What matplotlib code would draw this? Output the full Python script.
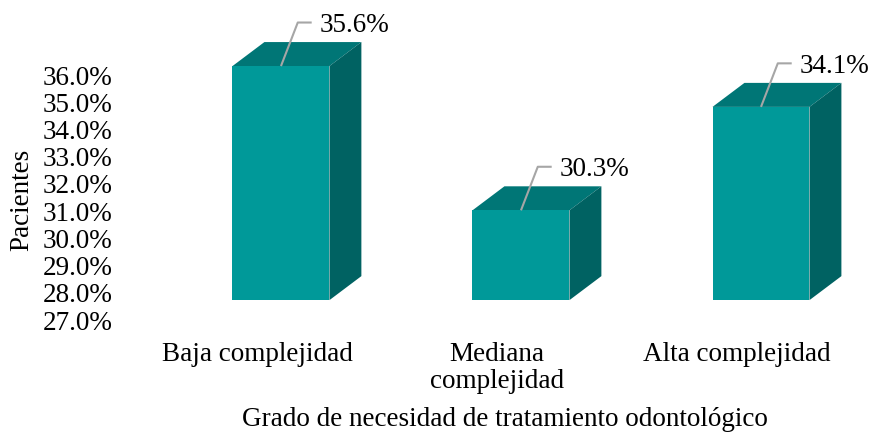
"""3D-style bar chart: grado de necesidad de tratamiento odontologico."""
import matplotlib
matplotlib.use("Agg")
import matplotlib.pyplot as plt
from matplotlib.patches import Polygon

categories = ["Baja complejidad", "Mediana\ncomplejidad", "Alta complejidad"]
values = [35.6, 30.3, 34.1]
yticks = [27, 28, 29, 30, 31, 32, 33, 34, 35, 36]

# style: fake 3D geometry (data units)
BASE = 27.0
LIFT = 0.73       # floor offset of the 3D box
SHIFT = 0.10      # bars sit slightly right of the category label
W = 0.404
DX, DY = 0.133, 0.882
FRONT, TOP, SIDE = "#009999", "#007676", "#006262"

plt.rcParams.update({"font.family": ["Liberation Serif", "DejaVu Serif"],
                     "font.size": 19.5, "text.color": "black"})
fig = plt.figure(figsize=(8.7, 4.32), dpi=100)
ax = fig.add_axes([118/870, 112/432, 742/870, 310/432])
ax.set_xlim(-0.579, 2.5125)
ax.set_ylim(BASE, 38.39)

xs = range(len(values))
for i, v in zip(xs, values):
    xl = i + SHIFT - W/2
    xr = xl + W
    b = BASE + LIFT
    t = v + LIFT
    ax.add_patch(Polygon([(xl, t), (xr, t), (xr+DX, t+DY), (xl+DX, t+DY)],
                         closed=True, fc=TOP, ec="none", clip_on=False))
    ax.add_patch(Polygon([(xr, b), (xr+DX, b+DY), (xr+DX, t+DY), (xr, t)],
                         closed=True, fc=SIDE, ec="none", clip_on=False))
    ax.bar(i + SHIFT, v - BASE, bottom=b, width=W, color=FRONT, clip_on=False)
    # leader line + label
    xc = i + SHIFT
    x1, y1 = xc + 0.07, t + 1.6
    x2 = x1 + 0.058
    ax.plot([xc, x1, x2], [t, y1, y1], color="#a6a6a6", lw=1.5,
            clip_on=False, solid_capstyle="butt")
    ax.text(x2 + 0.035, y1 - 0.1, f"{v:.1f}%", ha="left", va="center")

ax.set_yticks(yticks)
ax.set_yticklabels([f"{t:.1f}%" for t in yticks])
ax.set_xticks(list(xs))
ax.set_xticklabels(categories, linespacing=1.1)
ax.tick_params(length=0)
ax.tick_params(axis="x", pad=16)
ax.tick_params(axis="y", pad=4)
for s in ax.spines.values():
    s.set_visible(False)

ax.set_ylabel("Pacientes")
fig.text(505/870, 1 - 419/432, "Grado de necesidad de tratamiento odontológico",
         ha="center", va="center")
ax.yaxis.set_label_coords(-84/742, (432-200-112)/310)

plt.savefig("out.png", dpi=100)
